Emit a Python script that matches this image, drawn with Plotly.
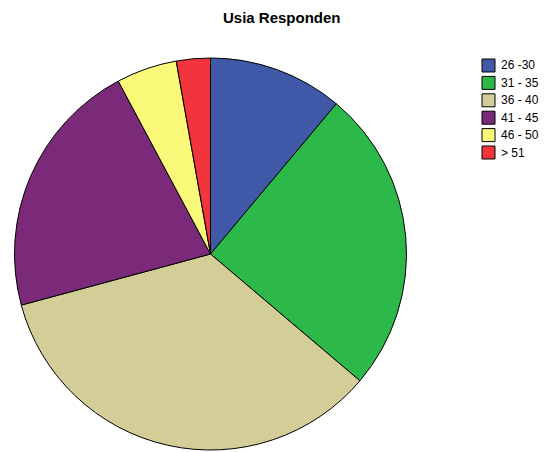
import plotly.graph_objects as go

categories = ["26 -30", "31 - 35", "36 - 40", "41 - 45", "46 - 50", "> 51"]
percent = [11.1, 25.1, 34.6, 21.4, 5.0, 2.8]
colors = ["#3F58A8", "#2DB84A", "#D3CD98", "#7B2A7A", "#FAF878", "#F2353D"]
title_text = "Usia Responden"

W, H = 544, 452

fig = go.Figure()
fig.add_trace(go.Pie(
    labels=categories,
    values=percent,
    sort=False,
    direction="clockwise",
    rotation=0,
    marker=dict(colors=colors, line=dict(color="#000000", width=1)),
    textinfo="none",
    showlegend=False,
    domain=dict(x=[13 / W, 408 / W], y=[2 / H, 394 / H]),
))

# custom legend (compact spacing like the reference)
top0 = 59
step = 17.4
for i, (lab, col) in enumerate(zip(categories, colors)):
    y0 = top0 + i * step
    fig.add_shape(type="rect", xref="paper", yref="paper",
                  x0=482 / W, x1=495 / W,
                  y0=1 - (y0 + 13) / H, y1=1 - y0 / H,
                  fillcolor=col, line=dict(color="#000000", width=1))
    fig.add_annotation(xref="paper", yref="paper",
                       x=499 / W, y=1 - (y0 + 6.5) / H,
                       text=lab, showarrow=False,
                       xanchor="left", yanchor="middle",
                       font=dict(size=12, color="#000000",
                                 family="Liberation Sans, Arial, sans-serif"))

fig.add_annotation(xref="paper", yref="paper",
                   x=281.5 / W, y=1 - 17 / H, text="<b>" + title_text + "</b>",
                   showarrow=False, xanchor="center", yanchor="middle",
                   font=dict(size=15, color="#000000",
                             family="Liberation Sans, Arial, sans-serif"))

fig.update_layout(
    width=W, height=H,
    margin=dict(l=0, r=0, t=0, b=0),
    paper_bgcolor="#FFFFFF",
    plot_bgcolor="#FFFFFF",
    showlegend=False,
)

fig.write_html("out.html",
               config={"displayModeBar": False},
               post_script="document.body.style.margin='0';document.body.style.overflow='hidden';")
